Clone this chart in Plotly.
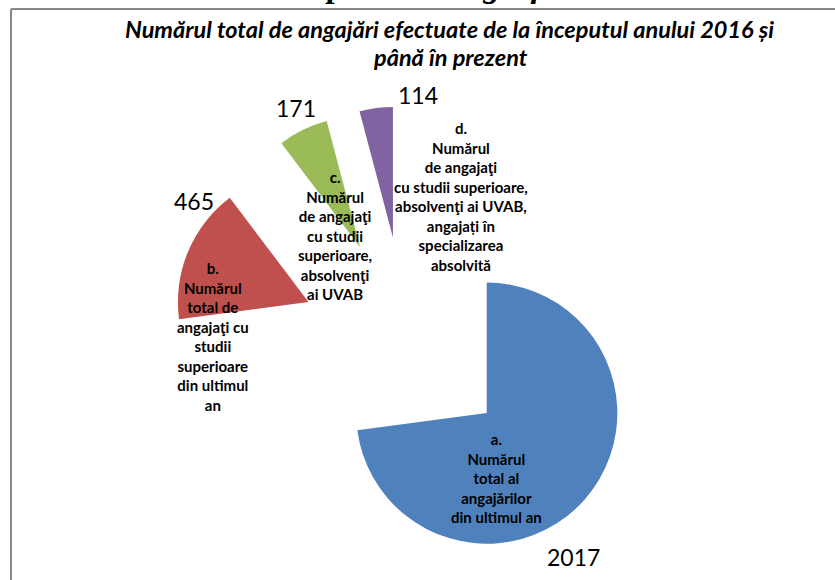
import plotly.graph_objects as go

W, H = 835, 580

labels = [
    "a.<br>Numărul<br>total al<br>angajărilor<br>din ultimul an",
    "b.<br>Numărul<br>total de<br>angajaţi cu<br>studii<br>superioare<br>din ultimul<br>an",
    "c.<br>Numărul<br>de angajaţi<br>cu studii<br>superioare,<br>absolvenţi<br>ai UVAB",
    "d.<br>Numărul<br>de angajaţi<br>cu studii superioare,<br>absolvenţi ai UVAB,<br>angajați în<br>specializarea<br>absolvită",
]
values = [2017, 465, 171, 114]
colors = ["#4F81BD", "#C0504D", "#9BBB59", "#8064A2"]

title_lines = ["Numărul total de angajări efectuate de la începutul anului 2016 și",
               "până în prezent"]
page_heading = "Reprezentare grafică"

# where Excel left the text boxes (pixel centres)
label_pos = [(497, 478), (213, 336), (335, 236), (461, 197)]
value_pos = [(573, 557), (194, 201), (296, 108), (418, 95)]
title_pos = [(449, 29), (450, 57)]


def px(x, y):
    return x / W, 1 - y / H


fig = go.Figure()
fig.add_trace(go.Pie(
    labels=[l.split("<br>")[0] for l in labels],
    values=values,
    marker=dict(colors=colors, line=dict(width=0)),
    sort=False,
    direction="clockwise",
    rotation=0,
    pull=0.815,
    textinfo="none",
    hoverinfo="label+value",
    domain=dict(x=[0.2032, 0.7709], y=[0, 0.8172]),
    showlegend=False,
))

for txt, (x, y) in zip(labels, label_pos):
    ax, ay = px(x, y)
    fig.add_annotation(x=ax, y=ay, xref="paper", yref="paper", text="<b>" + txt + "</b>",
                       showarrow=False, align="center", xanchor="center", yanchor="middle",
                       font=dict(family="Lato", size=15, color="black"))

for v, (x, y) in zip(values, value_pos):
    ax, ay = px(x, y)
    fig.add_annotation(x=ax, y=ay, xref="paper", yref="paper", text=str(v),
                       showarrow=False, xanchor="center", yanchor="middle",
                       font=dict(family="Lato", size=23, color="black"))

# chart title, one annotation per line
for line, (x, y) in zip(title_lines, title_pos):
    ax, ay = px(x, y)
    fig.add_annotation(x=ax, y=ay, xref="paper", yref="paper", text="<b><i>" + line + "</i></b>",
                       showarrow=False, xanchor="center", yanchor="middle",
                       font=dict(family="Lato", size=23.5, color="black"))

# heading of the document page, cut by the crop
hx, hy = px(436, 6)
fig.add_annotation(x=hx, y=hy, xref="paper", yref="paper", text="<b><i>" + page_heading + "</i></b>",
                   showarrow=False, xanchor="center", yanchor="bottom",
                   font=dict(family="Liberation Serif", size=34, color="black"))

# chart frame (only the left and top sides are inside the crop)
fx0, fy0 = px(11, 9)
frame = dict(color="#878787", width=2)
fig.add_shape(type="line", xref="paper", yref="paper", x0=fx0, y0=-0.1, x1=fx0, y1=fy0, line=frame)
fig.add_shape(type="line", xref="paper", yref="paper", x0=fx0, y0=fy0, x1=1.1, y1=fy0, line=frame)

fig.update_layout(width=W, height=H, margin=dict(l=0, r=0, t=0, b=0),
                  paper_bgcolor="white", plot_bgcolor="white")

fig.write_html("out.html", config={"displayModeBar": False},
               post_script="document.body.style.margin='0';"
                           "document.body.style.overflow='hidden';"
                           "document.documentElement.style.overflow='hidden';")
